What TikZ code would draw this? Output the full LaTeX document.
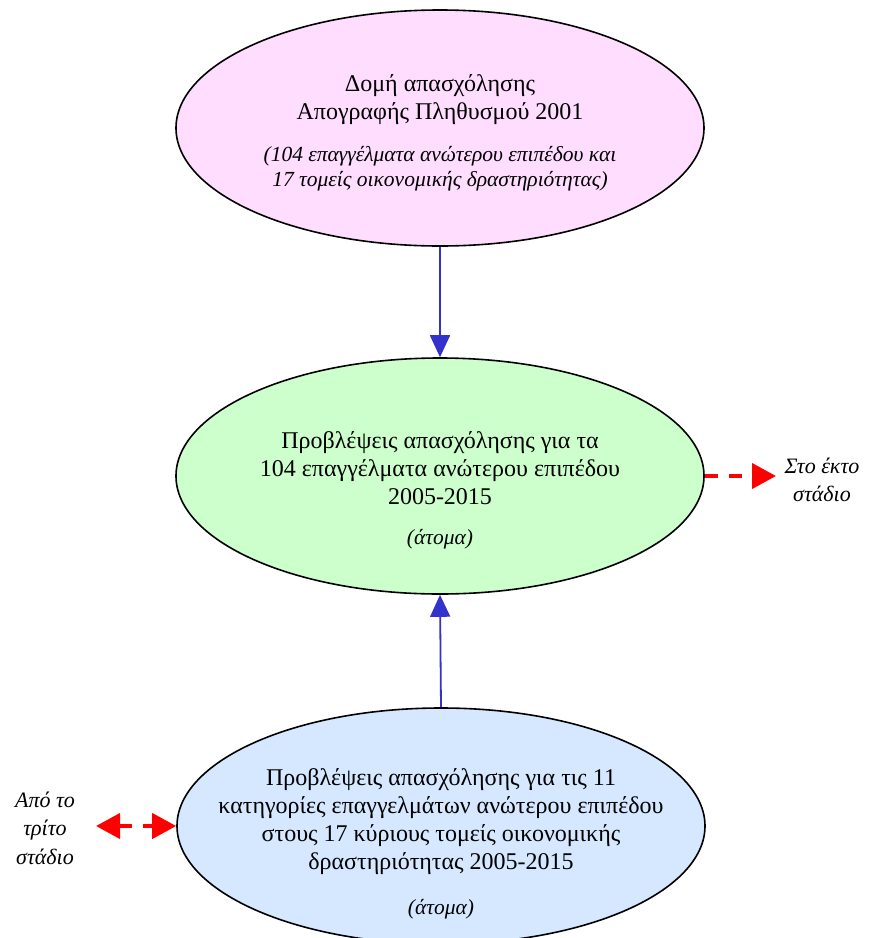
\documentclass[tikz,border=0pt]{standalone}
\usepackage{fontspec}
\setmainfont{Liberation Serif}
\usetikzlibrary{shapes.geometric,arrows.meta}
\definecolor{pinkfill}{HTML}{FFDDFF}
\definecolor{greenfill}{HTML}{CCFFCC}
\definecolor{bluefill}{HTML}{D5E8FF}
\definecolor{arrowblue}{HTML}{3333CC}
\definecolor{arrowred}{HTML}{FF0000}
\tikzset{redtip/.tip={Triangle[length=24pt,width=25pt]}}
\begin{document}
\begin{tikzpicture}[x=1pt,y=-1pt,
  oval/.style={ellipse,draw=black,line width=1.6pt,minimum width=528pt,minimum height=236pt,inner sep=0pt},
  ovaltext/.style={align=center,font=\fontsize{24}{28}\selectfont,inner sep=0pt},
  blueconn/.style={draw=arrowblue,line width=1.8pt,-{Triangle[length=22pt,width=20pt]}},
  redconn/.style={draw=arrowred,line width=4pt,dash pattern=on 13pt off 11pt},
  side/.style={font=\fontsize{22}{28.5}\selectfont\itshape,align=center}]
\useasboundingbox (0,0) rectangle (871,938);
\clip (0,0) rectangle (871,938);
\newcommand{\smallital}[1]{{\fontsize{21.5}{25}\selectfont\itshape #1}}
\node[oval,fill=pinkfill] (census) at (440,128) {};
\node[oval,fill=greenfill] (forecast) at (440,476) {};
\node[oval,fill=bluefill] (sectors) at (441,826) {};
\node[ovaltext] (censustext) at (440,133) {Δομή απασχόλησης\\Απογραφής Πληθυσμού 2001\\[14pt]\smallital{(104 επαγγέλματα ανώτερου επιπέδου και}\\[-3pt]\smallital{17 τομείς οικονομικής δραστηριότητας)}};
\node[ovaltext] (forecasttext) at (440,490) {Προβλέψεις απασχόλησης για τα\\104 επαγγέλματα ανώτερου επιπέδου\\2005-2015\\[12pt]\smallital{(άτομα)}};
\node[ovaltext] (sectorstext) at (441,844) {Προβλέψεις απασχόλησης για τις 11\\κατηγορίες επαγγελμάτων ανώτερου επιπέδου\\στους 17 κύριους τομείς οικονομικής\\δραστηριότητας 2005-2015\\[17pt]\smallital{(άτομα)}};
\node[side] (sixth) at (822,480) {Στο έκτο\\στάδιο};
\node[side] (third) at (45,828) {Από το\\τρίτο\\στάδιο};
\coordinate (sixthend) at (776,476);
\coordinate (thirdend) at (96,826);
\draw[blueconn] (census.south) -- (forecast.north);
\draw[blueconn] (sectors.north) -- (forecast.south);
\draw[redconn,-{redtip}] (forecast.east) -- (sixthend);
\draw[redconn,{redtip}-{redtip}] (thirdend) -- (sectors.west);
\end{tikzpicture}
\end{document}
